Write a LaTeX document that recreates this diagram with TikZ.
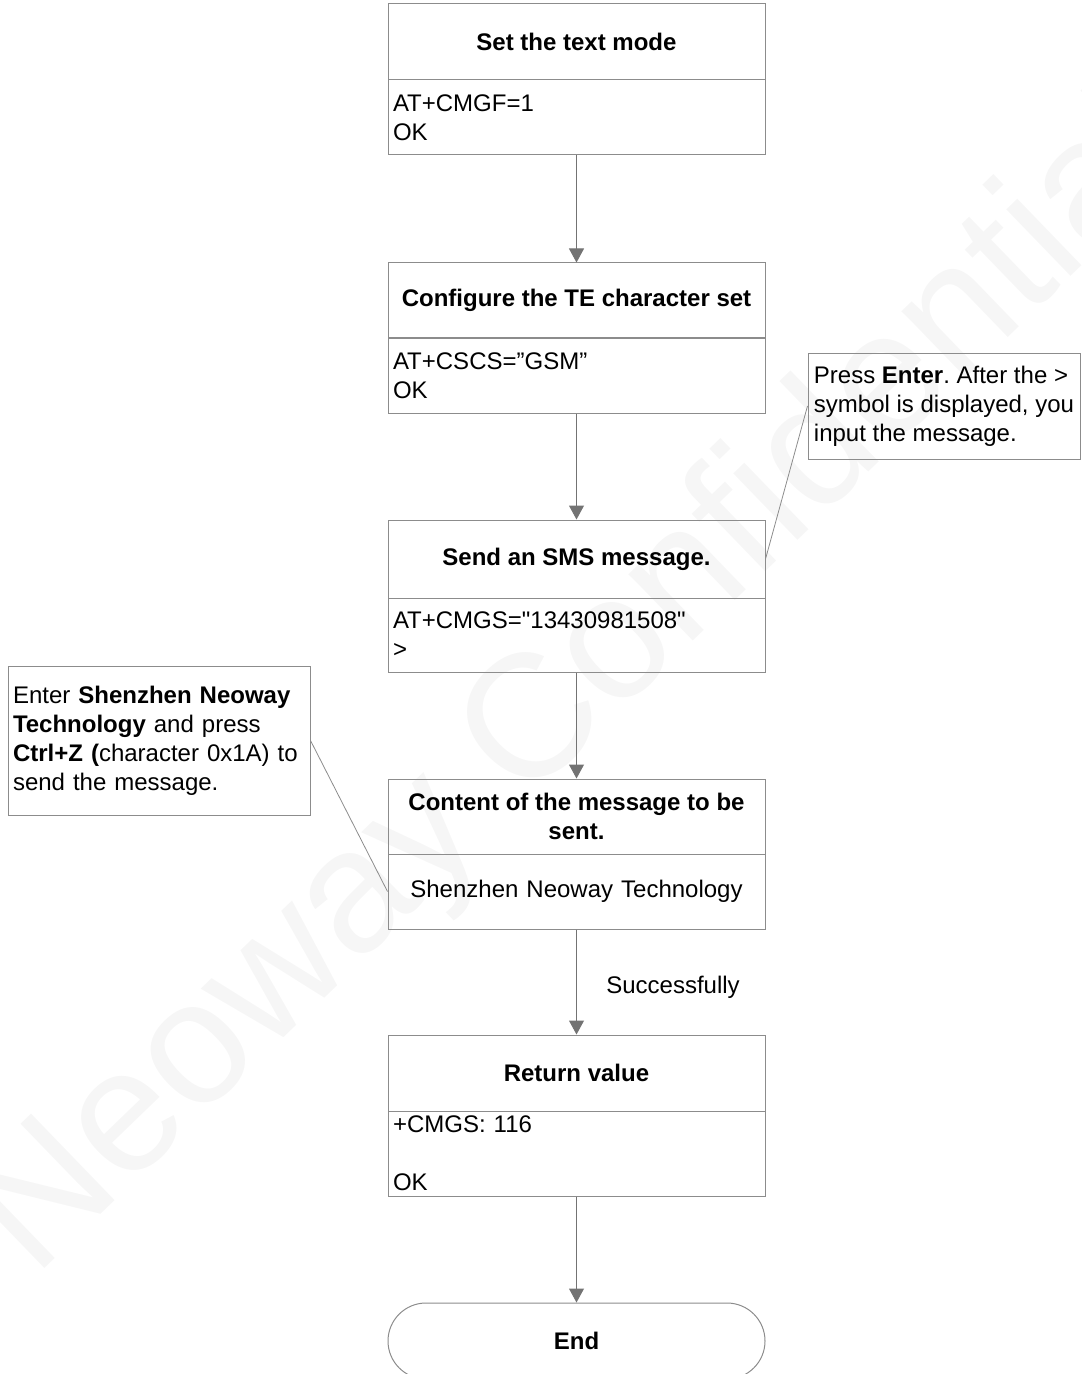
\documentclass[tikz,border=0pt]{standalone}
\usepackage{fontspec}
\setmainfont{Liberation Sans}[Ligatures=TeXOff]
\usetikzlibrary{arrows.meta}
\definecolor{boxline}{gray}{0.55}
\definecolor{arrowgray}{gray}{0.45}
\definecolor{markgray}{gray}{0.965}
\frenchspacing
\begin{document}
\begin{tikzpicture}[x=0.5pt, y=-0.5pt,
  every node/.style={font=\fontsize{12}{14.5}\selectfont, inner sep=0pt},
  head/.style={draw=boxline, line width=0.5pt, minimum width=188.5pt, font=\fontsize{12}{14.5}\selectfont\bfseries, align=center},
  body/.style={draw=boxline, line width=0.5pt, minimum width=188.5pt, text width=183.5pt, align=left},
  note/.style={draw=boxline, line width=0.5pt, align=left},
  flow/.style={draw=arrowgray, line width=0.5pt, -{Triangle[width=7.5pt,length=7pt]}},
  tie/.style={draw=boxline, line width=0.4pt}]
\useasboundingbox (0,0) rectangle (1081,1374);
% watermark
\node[rotate=44, text=markgray, font=\fontsize{87.5}{87.5}\selectfont] (mark) at (580,688) {Neoway Confidential};
% flow
\node[head, minimum height=38pt] (mode) at (576.5,42) {Set the text mode};
\node[body, minimum height=37.5pt] (modecmd) at (576.5,117.5) {AT+CMGF=1\\OK};
\node[head, minimum height=37.5pt] (charset) at (576.5,300.5) {Configure the TE character set};
\node[body, minimum height=37.5pt] (charsetcmd) at (576.5,375.5) {AT+CSCS=”GSM”\\OK};
\node[head, minimum height=39pt] (send) at (576.5,559) {Send an SMS message.};
\node[body, minimum height=37pt] (sendcmd) at (576.5,635) {AT+CMGS="13430981508"\\>};
\node[head, minimum height=37.5pt] (content) at (576.5,816.5) {Content of the message to be\\sent.};
\node[body, align=center, minimum height=37.5pt] (contenttext) at (576.5,891.5) {Shenzhen Neoway Technology};
\node[head, minimum height=38pt] (result) at (576.5,1073) {Return value};
\node[body, minimum height=42.5pt] (resultcmd) at (576.5,1153.5) {+CMGS: 116\\[14.5pt]OK};
\node[head, rounded corners=19pt, minimum height=38pt] (finish) at (576.5,1341) {End};
\node (succ) at (673,987) {Successfully};
% notes
\node[note, minimum width=136pt, minimum height=53pt] (enter) at (944,406) {Press \textbf{Enter}. After the >\\symbol is displayed, you\\input the message.};
\node[note, minimum width=151pt, minimum height=74.5pt, text width=146pt] (ctrlz) at (159,740.5) {Enter \textbf{Shenzhen Neoway}\\\textbf{Technology} and press\\\textbf{Ctrl+Z (}character 0x1A) to\\send the message.};
% connectors
\draw[flow] (modecmd) -- (charset);
\draw[flow] (charsetcmd) -- (send);
\draw[flow] (sendcmd) -- (content);
\draw[flow] (contenttext) -- (result);
\draw[flow] (resultcmd) -- (finish);
\draw[tie] (enter.west) -- (send.east);
\draw[tie] (ctrlz.east) -- (contenttext.west);
\end{tikzpicture}
\end{document}
